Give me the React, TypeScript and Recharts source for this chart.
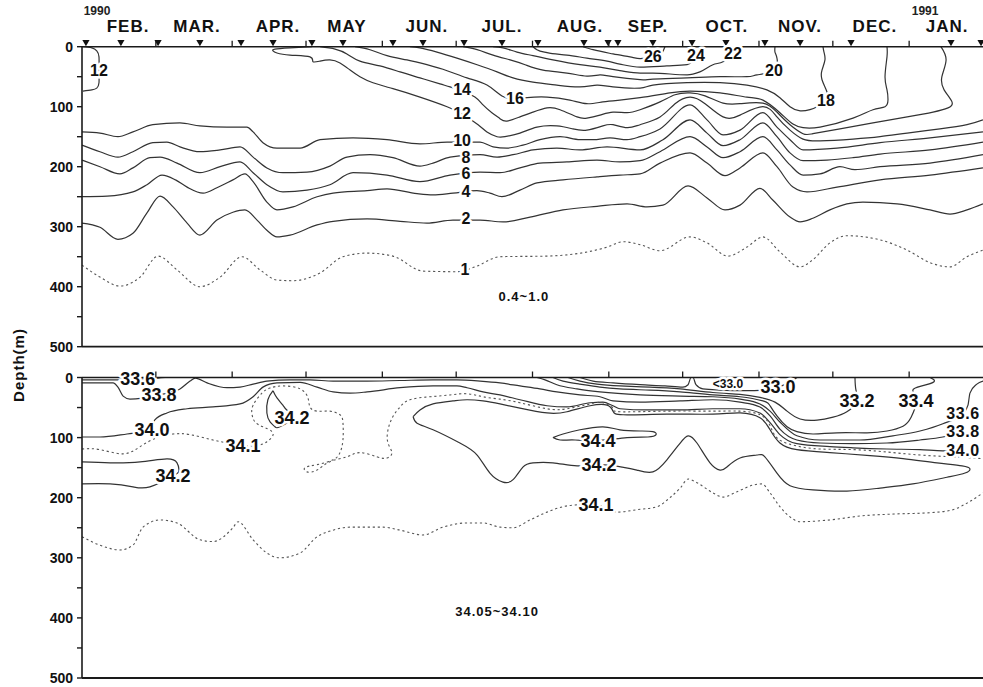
import React from "react";
import { ComposedChart, Line, XAxis, YAxis, Scatter, ReferenceLine } from "recharts";

const FONT = "'Liberation Sans', Arial, Helvetica, sans-serif";
const W = 983;
const H = 687;

// x = days since 1 Feb 1990, y = depth (m)
const monthStarts = [28, 59, 89, 120, 150, 181, 212, 242, 273, 303, 334];
const monthLabelDays = [16.7, 44.7, 77.6, 105.6, 138.1, 168.6, 200.3, 227.9, 260, 289.7, 320.1, 349.4];
const monthNames = ["FEB.", "MAR.", "APR.", "MAY", "JUN.", "JUL.", "AUG.", "SEP.", "OCT.", "NOV.", "DEC.", "JAN."];
const yearNames = ["1990", "1991"];
const depthTicks = [0, 50, 100, 150, 200, 250, 300, 350, 400, 450, 500];
const stationDays = [-0.4, 13.8, 28.9, 45.9, 62.6, 75.6, 91.4, 104, 124.3, 136.5, 153.2, 168.6, 183.2, 201.9, 211.7, 215.7, 229.9, 245.8, 259.6, 275.4, 289.7, 310.4, 351, 363.2];

// ---------- temperature contours (upper panel) ----------
const temp1 = [[-2,364],[5.3,384],[13.4,399],[21.6,384],[28.9,349],[36.6,372],[45.9,400],[54.1,384],[63,350],[70.3,372],[77.2,389],[83.7,390],[94.7,377],[104,350],[113.8,344],[124.3,349],[136.5,374],[150.3,375],[157.6,367],[167.8,350],[186.9,349],[211.3,334],[217.8,325],[224.7,330],[232.8,340],[245,317],[251.9,327],[260.4,349],[268.1,334],[274.6,317],[281.5,342],[289.7,367],[294.9,355],[301.8,327],[308.7,315],[322.2,322],[333.2,339],[342.5,360],[350.6,367],[357.5,350],[364,339]];
const temp2 = [[-2,294],[5.3,301],[12.6,321],[18.7,311],[24.4,277],[29.7,249],[35,267],[40.7,294],[45.9,314],[52.8,289],[59.3,276],[64.2,272],[69.1,289],[73.1,306],[77.2,317],[82.5,314],[93.5,297],[100,291],[113.8,287],[127.2,291],[138.1,294],[148.7,289],[159.7,289],[169,292],[180,284],[193.4,272],[207.2,266],[219.4,262],[227.5,267],[234,264],[244.2,232],[251.9,252],[259.2,272],[265.3,264],[273.4,236],[278.7,256],[285.6,284],[289.7,292],[294.9,286],[301.8,272],[308.7,262],[315.2,259],[329.1,262],[342.5,272],[350.6,279],[357.5,272],[364,262]];
const temp4 = [[-2,250],[8.2,249],[18.7,242],[24.4,230],[30.5,214],[36,222],[40.7,234],[47.2,244],[52.8,235],[59.3,222],[64.2,212],[67.5,225],[73.1,259],[77.2,272],[83.7,267],[93.5,250],[100,244],[113.8,240],[121.9,237],[134.1,245],[140.6,247],[148.7,244],[158.4,240],[163.7,244],[168.6,250],[175.9,239],[182.8,227],[193.4,222],[207.2,217],[216.5,214],[224.7,212],[232.8,194],[245,177],[251.9,194],[259.2,215],[265.3,202],[274.6,177],[280.3,200],[286.8,234],[292.5,242],[304.7,234],[322.2,222],[342.5,214],[364,202]];
const temp6 = [[-2,189],[5.3,200],[13.4,212],[18.7,202],[25.6,185],[29.7,184],[36.6,194],[45.9,210],[54.1,200],[62.2,192],[67.5,210],[73.1,230],[79.6,242],[89.4,239],[98.7,230],[108.1,210],[121.9,214],[135.3,225],[147.5,214],[159.7,209],[167.8,210],[175.9,202],[184,194],[195,192],[207.2,189],[216.5,192],[224.7,190],[232.8,175],[245,150],[251.9,167],[258.4,185],[265.3,175],[274.6,150],[280.3,172],[285.6,197],[290.9,214],[297.8,212],[305.9,200],[312,205],[322.2,200],[342.5,194],[364,180]];
const temp8 = [[-2,164],[5.3,175],[12.6,184],[18.7,175],[26.8,160],[32.5,159],[37.8,167],[45.9,175],[54.1,172],[62.2,167],[67.5,184],[73.1,202],[79.6,210],[89.4,209],[98.7,199],[105.6,184],[115,180],[124.3,185],[135.3,199],[140.6,194],[147.5,184],[159.7,180],[166.6,184],[173.1,180],[181.2,172],[190.9,169],[200.3,172],[211.3,167],[224.7,172],[234,155],[245,122],[251.9,144],[258.4,165],[265.3,155],[274.6,127],[280.3,150],[285.6,177],[290.9,190],[300.6,189],[311.2,185],[322.2,179],[342.5,172],[364,159]];
const temp10 = [[-2,142],[5.3,144],[12.6,150],[18.7,142],[26.8,130],[37.8,127],[45.9,132],[56.9,134],[65,134],[67.5,142],[71.5,160],[77.2,169],[86.6,169],[94.7,155],[108.1,152],[121.9,155],[135.3,162],[146.3,159],[159.7,159],[165,167],[170.6,169],[177.1,164],[184,155],[192.2,150],[200.3,155],[205.6,155],[212.5,152],[219.4,155],[224.7,150],[232.8,137],[245,97],[251.9,122],[258.4,147],[265.3,139],[274.6,110],[280.3,134],[285.6,155],[290.9,172],[304.7,169],[322.2,160],[342.5,152],[364,142]];
const temp12 = [[91.4,0],[82.5,2],[76.4,4],[75.6,7],[77.2,10.5],[82.5,14],[90.6,17],[91.8,25],[94.7,24],[98.7,22],[102.8,27],[106.9,39],[110.9,50],[116.2,60],[124.3,70],[135.3,84],[146.3,100],[152.4,112],[158.9,130],[162.5,142],[166.6,150],[169.8,150],[175.9,144],[182.8,134],[190.9,132],[197.4,137],[203.1,139],[209.6,132],[213.7,130],[219.4,135],[224.7,130],[232.8,117],[238.9,95],[245,84],[251.1,95],[258.4,117],[265.3,114],[274.6,100],[280.3,117],[285.6,139],[290.9,154],[297.8,157],[311.2,154],[322.2,150],[333.2,144],[346.5,137],[357.5,130],[364,122]];
const temp12Early = [[-1.6,0],[2,2],[4,7],[4.9,17],[4.9,39],[4.9,60],[4,69],[2,72],[-1.6,74]];
const temp14 = [[94.7,0],[100.8,4],[105.6,12],[110.9,24],[119,32],[127.2,42],[135.3,52],[143.4,62],[147.5,67],[152.4,74],[157.6,84],[160.9,97],[164.5,110],[167.8,120],[170.6,124],[175.9,117],[181.2,109],[186.9,102],[192.2,105],[199.1,117],[203.1,119],[208.4,114],[213.7,109],[219.4,110],[224.7,105],[232.8,92],[238.9,80],[245,77],[251.1,82],[258.4,94],[265.3,95],[274.6,94],[280.3,109],[285.6,130],[290.9,145],[294.9,145],[305.9,137],[319.3,127],[333.2,117],[343.7,109],[349.8,102],[351.4,92],[348.2,72],[347.3,50],[349,22],[346.9,0]];
const temp16 = [[108.9,0],[115,5],[121.9,15],[130,22],[138.1,30],[146.3,40],[154.4,52],[162.5,64],[168.6,82],[173.9,87],[178.8,85],[186.9,84],[196.2,89],[203.1,95],[209.6,92],[216.5,89],[224.7,85],[236.8,77],[245,74],[257.2,77],[268.1,84],[274.6,89],[281.5,110],[286.8,129],[290.9,135],[297.8,134],[311.2,119],[319.3,105],[324.2,100],[325.4,89],[325,72],[324.2,50],[325,17],[325,0]];
const temp18 = [[131.2,0],[135.3,2],[142.2,9],[150.3,19],[158.5,30],[166.6,42],[173.1,52],[181.2,59],[190.9,64],[200.3,67],[207.2,64],[213.7,67],[224.7,69],[229.9,64],[243.8,60],[257.2,60],[268.1,64],[276.2,72],[281.5,85],[285.6,100],[289.7,107],[293.7,105],[296.6,100],[300.2,89],[300.6,75],[298.6,55],[298.6,39],[299.8,22],[299.4,9],[299,0]];
const temp20 = [[152.8,0],[158.5,5],[165,14],[171.9,22],[178,30],[185.3,39],[195,44],[203.1,49],[208.4,47],[213.7,50],[224.7,55],[229.9,54],[243.8,52],[257.2,50],[268.1,50],[272.2,47],[279.1,39],[280.3,19],[279.5,9],[279.5,0]];
const temp22 = [[165,0],[169,2],[174.7,9],[181.2,15],[189.3,22],[200.3,30],[208.4,34],[216.5,40],[224.7,44],[229.9,44],[243.8,47],[249,42],[254.3,30],[258.4,25],[262.4,12],[266.1,2],[266.5,0]];
const temp24 = [[181.2,0],[182.8,5],[186.9,10],[195,14],[203.1,19],[211.3,24],[216.5,29],[224.7,34],[235.6,32],[243.8,30],[245.8,25],[247.4,14],[249,4],[249.9,0]];
const temp26 = [[201.5,0],[205.6,5],[213.7,12],[220.6,17],[224.7,20],[229.9,17],[233.6,10],[234.8,0]];

const tempLabels = [
  { day: 4.9, depth: 39, text: "12" },
  { day: 152.4, depth: 72, text: "14" },
  { day: 173.9, depth: 87, text: "16" },
  { day: 152.4, depth: 112, text: "12" },
  { day: 152.4, depth: 155.5, text: "10" },
  { day: 154, depth: 184, text: "8" },
  { day: 154, depth: 212, text: "6" },
  { day: 154, depth: 240.5, text: "4" },
  { day: 154, depth: 287, text: "2" },
  { day: 153.6, depth: 370.5, text: "1" },
  { day: 229.9, depth: 17, text: "26" },
  { day: 247.4, depth: 14, text: "24" },
  { day: 262.4, depth: 12, text: "22" },
  { day: 279.1, depth: 39, text: "20" },
  { day: 300.2, depth: 89, text: "18" },
];
const tempNote = [{ day: 177.5, depth: 417, text: "0.4~1.0" }];

// ---------- salinity contours (lower panel) ----------
const sal336Early = [[-2,4],[12.6,4],[20.7,2.5],[28.9,1],[31.7,0]];
const sal338 = [[-2,9],[10.6,9],[12.6,16],[14.7,31],[17.5,36],[29.3,29],[37.8,19],[41.9,6],[44,1],[48.8,9],[56.9,17],[62.2,16],[67.5,11],[73.1,6],[82.5,4],[90.6,4],[100,6],[113.8,6],[127.2,5],[140.6,4],[150.3,4],[159.7,6],[167.8,9],[175.9,14],[184,19],[190.9,24],[200.3,29],[208.4,32],[213.7,39],[224.7,41],[241,39],[254.3,37],[265.3,41],[273.4,49],[277.5,64],[281.5,86],[288.4,104],[297.8,109],[311.2,110],[325,109],[338.4,104],[347.7,99],[355.9,90]];
const sal340 = [[-2,99],[5.3,99],[16.3,94],[26.4,87.5],[27.5,71],[32.5,59],[40.7,52],[51.2,49],[62.2,44],[67.5,32],[71.5,16],[77.2,9],[86.6,8],[93.5,16],[100,24],[106.9,26],[113.8,24],[127.2,17],[140.6,14],[150.3,14],[154.4,17],[160.9,24],[167.8,29],[175.9,37],[186.9,47],[195,49],[204.4,42],[209.6,41],[213.7,47],[216.5,52],[227.5,54],[241,54],[254.3,52],[265.3,52],[273.4,59],[277.5,75],[281.5,95],[288.4,110],[301.8,115],[311.2,117],[325,119],[338.4,120],[347.7,122],[355.9,121]];
const sal341Upper = [[-2,119],[5.3,120],[14.7,127],[21.6,115],[28.5,100],[35,94],[41.9,95],[51.2,104],[56.9,109],[63.4,114],[70.3,112],[73.1,107],[75.2,99],[75.2,90],[71.5,82],[68.3,74],[67.1,62],[67.5,46],[71.1,26],[74.4,17.5],[79.6,14],[86.6,19],[89.8,34],[90.6,49],[93.5,56],[98.7,56],[102.8,62],[104,75],[104,104],[102.8,125],[100,137],[93.5,145],[88.6,150],[89.4,157],[93.5,154],[98.7,140],[105.6,132],[110.9,125],[117.8,132],[121.9,134],[123.9,125],[122.3,109],[122.3,87],[124.3,65],[127.2,49],[131.2,37],[139.4,32],[147.5,29],[154.4,27],[160.9,32],[167.8,36],[175.9,42],[186.9,52],[195,52],[204.4,44],[209.6,42],[213.7,51],[216.5,57],[235.6,56],[254.3,56],[265.3,56],[273.4,62],[277.5,80],[280.7,102],[288.4,114],[297.8,119],[311.2,120],[325,124],[338.4,129],[351.8,132],[364,135]];
const sal341Lower = [[-2,265],[5.3,279],[13.4,287],[18.7,279],[22.8,249],[29.7,237],[36.6,242],[45.9,270],[51.2,273],[59.3,250],[61.4,240],[67.5,270],[73.1,292],[78.4,300],[86.6,292],[93.5,265],[100,254],[106.9,249],[120.3,249],[127.2,254],[136.5,262],[144.6,249],[154.4,242],[160.9,242],[167.8,249],[173.1,250],[180,237],[186.9,224],[193.4,215],[199.1,212],[206.8,212],[215.3,224],[223.4,220],[231.6,215],[236.8,200],[241,184],[244.2,169],[247.8,175],[254.3,192],[258.4,199],[264.1,190],[270.6,179],[274.2,177],[277.5,192],[281.5,215],[285.6,232],[289.7,240],[301.8,237],[315.2,230],[329.1,227],[342.5,225],[351.8,220],[357.5,209],[364,192]];
const sal342Early = [[-2,140.5],[9.4,142],[21.6,140.5],[32.5,135.5],[36.6,142],[37.4,154],[35,164],[25.6,182],[18.7,182],[9.4,177],[-2,177]];
const sal342Apr = [[75.6,22],[77.2,34],[79.6,46],[81.2,54],[83.3,67],[78.4,82],[76.4,82],[74.4,74],[73.1,59],[73.5,37],[75.6,22]];
const sal342Main = [[132.5,65],[135.3,54],[140.6,44],[148.7,39],[154.4,37],[160.9,39],[167.8,44],[175.9,51],[186.9,59],[195,57],[204.4,47],[211.3,46],[213.7,56],[217.8,62],[235.6,61],[254.3,61],[265.3,59],[273.4,67],[277.5,87],[281.5,109],[288.4,120],[301.8,125],[318.1,130],[331.5,135],[345.3,142],[355.5,147],[358.7,152],[356.7,159],[349.4,166],[335.5,177],[322.2,184],[308.7,189],[294.9,187],[285.6,180],[280.3,159],[275.4,132],[272.2,129],[265.3,134],[260,149],[257.2,154],[253.1,142],[247.8,109],[244.2,97],[241,109],[235.6,137],[229.9,157],[223.4,154],[217.4,149],[208,145],[199.1,147],[189.3,142],[181.2,142],[177.1,149],[173.1,170],[169,174],[163.7,159],[158.5,129],[151.5,109],[140.6,87],[134.1,76],[132.5,65]];
const sal344 = [[189.3,100],[193.4,94],[200.3,87],[209.6,82],[216.5,87],[224.7,89],[229.9,90],[231.2,95],[227.9,99],[219.4,100],[207.6,105],[198.3,104],[192.2,104],[189.3,100]];
const sal330 = [[200.3,0],[205.6,6],[213.7,9],[224.7,12],[234.8,14],[242.1,16],[244.2,12],[245.4,0],[246.2,0],[247.4,12],[250.2,19],[257.2,21],[267.3,22],[275.4,21],[280.7,16],[286.4,6],[288.4,0]];
const sal332 = [[195.4,0],[200.3,6],[207.2,11],[216.5,14],[228.7,16],[241,19],[254.3,25],[265.3,28],[273.4,33],[279.5,41],[284.4,56],[289.7,69],[296.6,71],[303.1,66],[308.7,57],[312.8,39],[312.4,21],[312,0]];
const sal334 = [[189.3,0],[193.4,6],[200.3,11],[208.4,16],[216.5,19],[228.7,21],[241,24],[254.3,29],[265.3,32],[274.6,39],[277.5,47],[280.3,64],[284.4,82],[288.4,90],[294.9,94],[304.7,92],[316.9,92],[325,89],[331.5,81],[334.8,66],[336.8,39],[335.5,21],[339.2,14],[344.1,7],[342.5,0]];
const sal336 = [[182.8,0],[186.1,4],[190.9,12],[199.1,19],[208.4,24],[224.7,29],[241,31],[254.3,32],[265.3,36],[273.4,44],[277.5,56],[281.5,74],[288.4,97],[297.8,104],[314,104],[327.4,97],[338.4,89],[347.7,77],[355.9,60],[357.9,46],[358.7,26],[361.5,11],[364,6]];

const salLabels = [
  { day: 20.7, depth: 2.5, text: "33.6" },
  { day: 29.3, depth: 29, text: "33.8" },
  { day: 26.4, depth: 87.5, text: "34.0" },
  { day: 63.4, depth: 114, text: "34.1" },
  { day: 83.3, depth: 67, text: "34.2" },
  { day: 35, depth: 164, text: "34.2" },
  { day: 207.6, depth: 105.5, text: "34.4" },
  { day: 208, depth: 145.5, text: "34.2" },
  { day: 206.8, depth: 212, text: "34.1" },
  { day: 280.7, depth: 16, text: "33.0" },
  { day: 312.8, depth: 39, text: "33.2" },
  { day: 336.8, depth: 39, text: "33.4" },
];
const salEdgeLabels = [
  { day: 355.9, depth: 59.5, text: "33.6" },
  { day: 355.9, depth: 90.5, text: "33.8" },
  { day: 355.9, depth: 121.5, text: "34.0" },
];
const salSmallLabels = [{ day: 260.4, depth: 11, text: "<33.0" }];
const salNote = [{ day: 166.6, depth: 390, text: "34.05~34.10" }];

// ---------- rendering ----------
const tempSolid = [temp2, temp4, temp6, temp8, temp10, temp12, temp12Early, temp14, temp16, temp18, temp20, temp22, temp24, temp26];
const tempDotted = [temp1];
const salSolid = [sal336Early, sal338, sal340, sal342Early, sal342Apr, sal342Main, sal344, sal330, sal332, sal334, sal336];
const salDotted = [sal341Upper, sal341Lower];

const toPts = (a: number[][]) => a.map(([day, depth]) => ({ day, depth }));
const curveFor = (a: number[][]) =>
  a.every((p, i) => i === 0 || p[0] > a[i - 1][0]) ? "monotone" : "natural";

const contour = (a: number[][], key: string, dotted: boolean) => (
  <Line
    key={key}
    data={toPts(a)}
    dataKey="depth"
    type={curveFor(a) as any}
    stroke={dotted ? "#555" : "#333"}
    strokeWidth={dotted ? 1.1 : 1.2}
    strokeDasharray={dotted ? "2.2 2.8" : undefined}
    dot={false}
    activeDot={false}
    isAnimationActive={false}
    legendType="none"
  />
);

const makeLabel = (size: number, halo: boolean, spacing = 0) => (p: any) => (
  <text
    x={p.cx}
    y={p.cy}
    textAnchor="middle"
    dominantBaseline="central"
    fontFamily={FONT}
    fontWeight={700}
    fontSize={size}
    letterSpacing={spacing}
    fill="#111"
    stroke={halo ? "#fff" : "none"}
    strokeWidth={halo ? 5 : 0}
    strokeLinejoin="round"
    paintOrder="stroke"
  >
    {p.payload.text}
  </text>
);

const Triangle = (p: any) => (
  <path d={`M${p.cx - 3.6},${p.cy - 6.6}L${p.cx + 3.6},${p.cy - 6.6}L${p.cx},${p.cy - 0.4}Z`} fill="#111" />
);

const TopTick = (props: any) => {
  const { x, y, payload } = props;
  const i = monthLabelDays.indexOf(payload.value);
  if (i >= 0) {
    return (
      <g>
        <text x={x} y={y - 15} textAnchor="middle" fontFamily={FONT} fontWeight={700} fontSize={17} letterSpacing={1} fill="#111">
          {monthNames[i]}
        </text>
        {i === 0 && (
          <text x={x - 31} y={y - 31.5} textAnchor="middle" fontFamily={FONT} fontWeight={700} fontSize={12} fill="#222">
            {yearNames[0]}
          </text>
        )}
        {i === 11 && (
          <text x={x - 22} y={y - 31.5} textAnchor="middle" fontFamily={FONT} fontWeight={700} fontSize={12} fill="#222">
            {yearNames[1]}
          </text>
        )}
      </g>
    );
  }
  return <line x1={x} x2={x} y1={y} y2={y - 6} stroke="#1a1a1a" strokeWidth={1.3} />;
};

const MarkTick = (props: any) => {
  const { x, y } = props;
  return <line x1={x} x2={x} y1={y} y2={y - 6} stroke="#1a1a1a" strokeWidth={1.3} />;
};

const DepthTick = (props: any) => {
  const { x, y, payload } = props;
  if (payload.value % 100 !== 0) return <g />;
  return (
    <text x={x} y={y} textAnchor="end" dominantBaseline="central" fontFamily={FONT} fontWeight={700} fontSize={14} fill="#111">
      {payload.value}
    </text>
  );
};

const axisStroke = { stroke: "#1a1a1a", strokeWidth: 1.6 };

const Panel = ({ top, bottom, topTicks, tick, children }: any) => (
  <div style={{ position: "absolute", left: 0, top: 0 }}>
    <ComposedChart width={W} height={H} margin={{ top: top - 1, right: 0, bottom: H - bottom, left: 0 }}>
      <XAxis
        dataKey="day"
        type="number"
        domain={[-2, 364]}
        orientation="top"
        height={1}
        ticks={topTicks}
        interval={0}
        tick={tick}
        tickLine={false}
        tickSize={0}
        tickMargin={0}
        axisLine={axisStroke}
      />
      <YAxis
        type="number"
        domain={[0, 500]}
        reversed
        ticks={depthTicks}
        interval={0}
        width={82}
        tick={(p: any) => <DepthTick {...p} />}
        tickSize={5}
        tickMargin={4}
        tickLine={{ stroke: "#1a1a1a", strokeWidth: 1.4 }}
        axisLine={axisStroke}
      />
      <ReferenceLine y={500} stroke="#1a1a1a" strokeWidth={1.8} />
      {children}
    </ComposedChart>
  </div>
);

export default function App() {
  return (
    <div style={{ position: "absolute", left: 0, top: 0, width: W, height: H, background: "#fff", overflow: "hidden" }}>
      <Panel
        top={46.7}
        bottom={346.7}
        topTicks={[...monthStarts, ...monthLabelDays]}
        tick={(p: any) => <TopTick {...p} />}
      >
        {tempSolid.map((a, i) => contour(a, "ts" + i, false))}
        {tempDotted.map((a, i) => contour(a, "td" + i, true))}
        <Scatter data={stationDays.map((day) => ({ day, depth: 0 }))} dataKey="depth" shape={Triangle} isAnimationActive={false} legendType="none" />
        <Scatter data={tempLabels} dataKey="depth" shape={makeLabel(16, true)} isAnimationActive={false} legendType="none" />
        <Scatter data={tempNote} dataKey="depth" shape={makeLabel(13, false, 1)} isAnimationActive={false} legendType="none" />
      </Panel>
      <Panel
        top={377.5}
        bottom={678}
        topTicks={monthStarts}
        tick={(p: any) => <MarkTick {...p} />}
      >
        {salSolid.map((a, i) => contour(a, "ss" + i, false))}
        {salDotted.map((a, i) => contour(a, "sd" + i, true))}
        <Scatter data={salLabels} dataKey="depth" shape={makeLabel(18, true)} isAnimationActive={false} legendType="none" />
        <Scatter data={salEdgeLabels} dataKey="depth" shape={makeLabel(16, true, 0.6)} isAnimationActive={false} legendType="none" />
        <Scatter data={salSmallLabels} dataKey="depth" shape={makeLabel(12, true)} isAnimationActive={false} legendType="none" />
        <Scatter data={salNote} dataKey="depth" shape={makeLabel(13, false, 1)} isAnimationActive={false} legendType="none" />
      </Panel>
      <div
        style={{
          position: "absolute",
          left: 18,
          top: 365,
          transform: "translate(-50%, -50%) rotate(-90deg)",
          fontFamily: FONT,
          fontWeight: 700,
          fontSize: 15,
          letterSpacing: 1,
          whiteSpace: "nowrap",
          color: "#111",
        }}
      >
        Depth(m)
      </div>
    </div>
  );
}
